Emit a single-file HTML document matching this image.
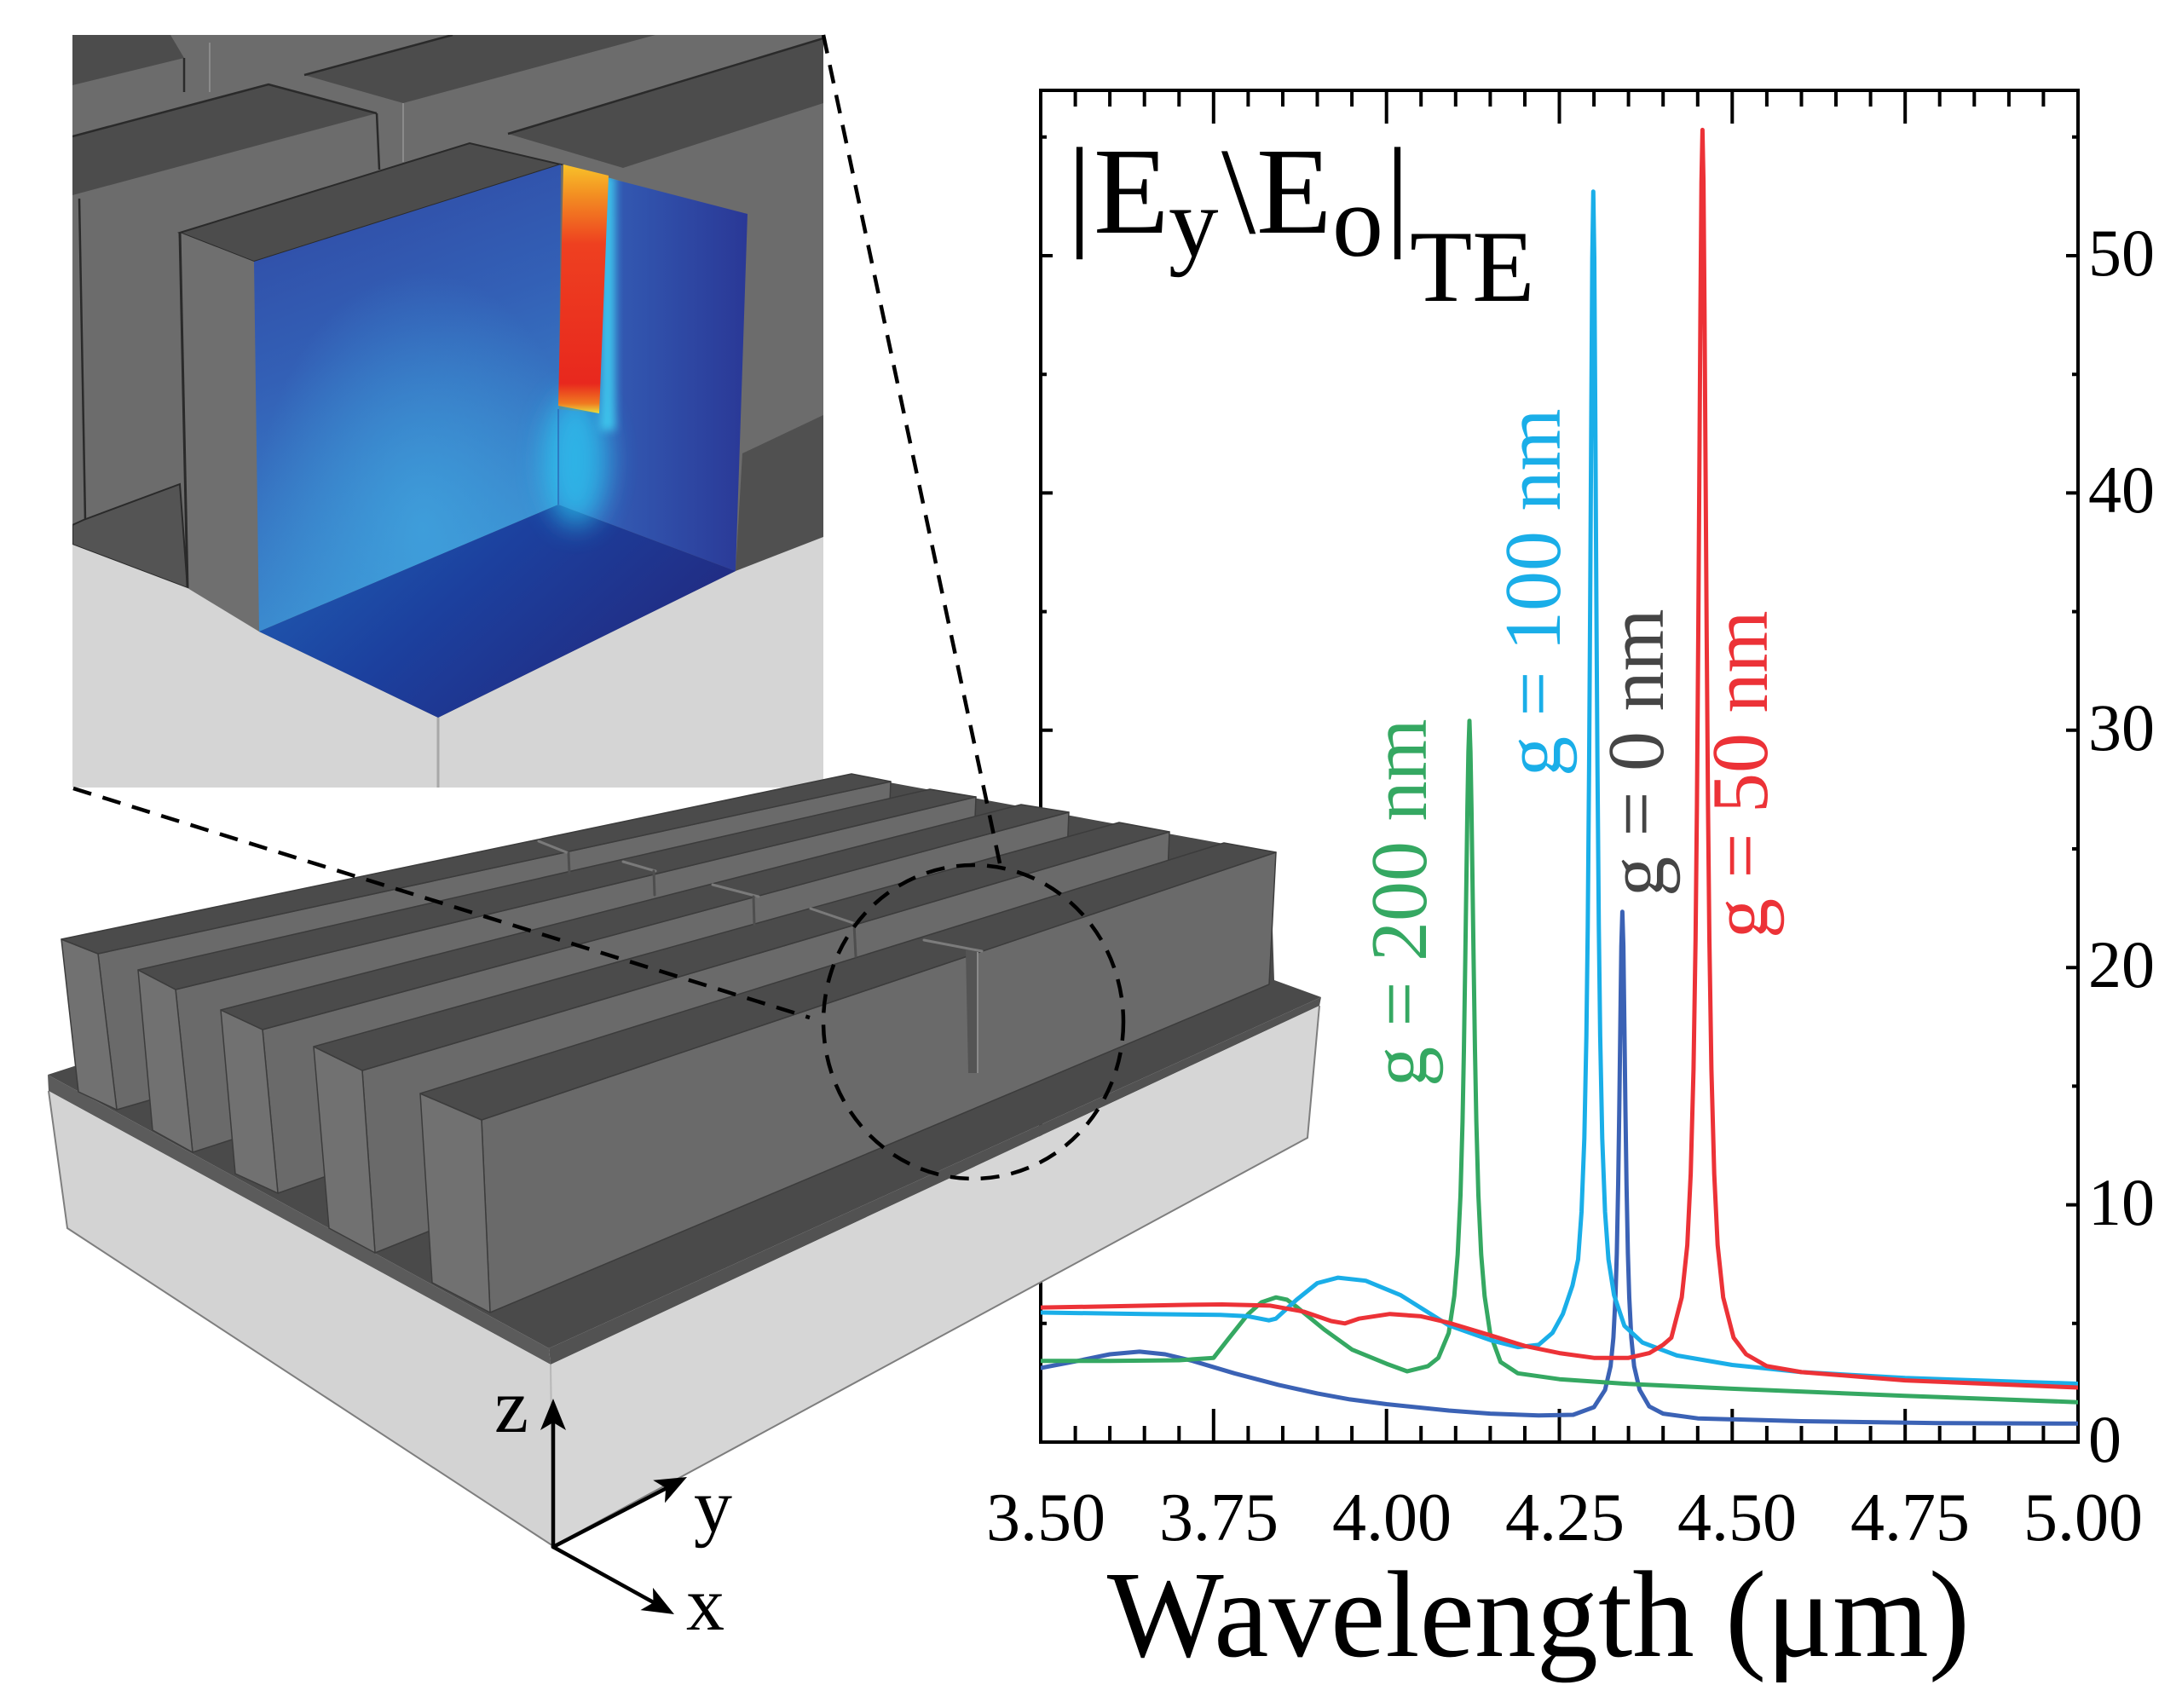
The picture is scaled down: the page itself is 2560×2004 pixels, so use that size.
<!DOCTYPE html>
<html>
<head>
<meta charset="utf-8">
<style>
  html,body{margin:0;padding:0;background:#fff;}
  svg{display:block;}
  text{font-family:"Liberation Serif","DejaVu Serif",serif;}
</style>
</head>
<body>
<svg xmlns="http://www.w3.org/2000/svg" width="2560" height="2004" viewBox="0 0 2560 2004">
<defs>
  <clipPath id="ic"><rect x="85" y="41" width="881" height="883"/></clipPath>
  <clipPath id="pc"><rect x="1221" y="100" width="1217" height="1592"/></clipPath>
  <clipPath id="bc">
    <polygon points="298,307 658,193 655,592 304,741"/>
    <polygon points="655,193 877,251 863,670 655,592"/>
    <polygon points="304,741 655,592 863,670 514,842"/>
  </clipPath>
  <linearGradient id="gLeft" x1="0" y1="0" x2="0.25" y2="1">
    <stop offset="0" stop-color="#2f47a2"/>
    <stop offset="0.45" stop-color="#3360b6"/>
    <stop offset="1" stop-color="#3c90d2"/>
  </linearGradient>
  <radialGradient id="gLeftHi" cx="0.55" cy="0.78" r="0.55">
    <stop offset="0" stop-color="#3fa2dd" stop-opacity="0.85"/>
    <stop offset="1" stop-color="#3fa2dd" stop-opacity="0"/>
  </radialGradient>
  <linearGradient id="gRight" x1="0" y1="0" x2="1" y2="0">
    <stop offset="0" stop-color="#3a72c6"/>
    <stop offset="0.35" stop-color="#3257b0"/>
    <stop offset="1" stop-color="#2a3896"/>
  </linearGradient>
  <linearGradient id="gFloor" x1="0" y1="0" x2="1" y2="0.5">
    <stop offset="0" stop-color="#2062b6"/>
    <stop offset="0.5" stop-color="#1c409e"/>
    <stop offset="1" stop-color="#222a80"/>
  </linearGradient>
  <linearGradient id="gSlit" x1="0" y1="0" x2="0" y2="1">
    <stop offset="0" stop-color="#f8c22a"/>
    <stop offset="0.12" stop-color="#f39022"/>
    <stop offset="0.32" stop-color="#ee4020"/>
    <stop offset="0.88" stop-color="#e8281e"/>
    <stop offset="0.96" stop-color="#f07a20"/>
    <stop offset="1" stop-color="#e8e040"/>
  </linearGradient>
  <filter id="bl" x="-80%" y="-80%" width="260%" height="260%"><feGaussianBlur stdDeviation="16"/></filter>
  <filter id="bl2" x="-50%" y="-50%" width="200%" height="200%"><feGaussianBlur stdDeviation="5"/></filter>
</defs>

<rect x="0" y="0" width="2560" height="2004" fill="#fff"/>

<!-- ================= INSET ================= -->
<g clip-path="url(#ic)">
  <rect x="85" y="41" width="881" height="883" fill="#6c6c6c"/>
  <polygon points="85,41 200,41 216,68 85,100" fill="#4c4c4c"/>
  <polygon points="357,88 473,121 769,41 531,41" fill="#4c4c4c"/>
  <polygon points="85,160 315,99 442,133 85,229" fill="#4c4c4c"/>
  <polygon points="596,157 966,45 966,121 731,197" fill="#4c4c4c"/>
  <polyline points="85,160 315,99 442,133" fill="none" stroke="#2a2a2a" stroke-width="2.5"/>
  <polyline points="357,88 531,41" fill="none" stroke="#2a2a2a" stroke-width="2.5"/>
  <polyline points="596,157 966,45" fill="none" stroke="#2a2a2a" stroke-width="2.5"/>
  <line x1="216" y1="68" x2="216" y2="108" stroke="#2a2a2a" stroke-width="2.5"/>
  <line x1="246" y1="50" x2="246" y2="108" stroke="#8a8a8a" stroke-width="2"/>
  <line x1="442" y1="133" x2="445" y2="199" stroke="#2a2a2a" stroke-width="2.5"/>
  <line x1="473" y1="121" x2="473" y2="190" stroke="#8a8a8a" stroke-width="2"/>
  <line x1="93" y1="233" x2="100" y2="611" stroke="#2a2a2a" stroke-width="2.5"/>
  <polygon points="98,610 211,568 220,690 85,639 85,616" fill="#545454" stroke="#2a2a2a" stroke-width="2"/>
  <polygon points="211,273 551,168 658,193 298,307" fill="#4c4c4c" stroke="#2a2a2a" stroke-width="2"/>
  <polygon points="211,273 298,307 304,741 220,690" fill="#6f6f6f"/>
  <line x1="211" y1="273" x2="220" y2="690" stroke="#2a2a2a" stroke-width="3"/>
  <polygon points="871,532 966,487 966,630 863,670" fill="#505050"/>
  <polygon points="85,639 220,690 304,741 514,842 863,670 966,630 966,924 85,924" fill="#d5d5d5"/>
  <line x1="514" y1="842" x2="514" y2="924" stroke="#a8a8a8" stroke-width="3"/>
  <polygon points="298,307 658,193 655,592 304,741" fill="url(#gLeft)"/>
  <polygon points="298,307 658,193 655,592 304,741" fill="url(#gLeftHi)"/>
  <polygon points="703,206 877,251 863,670 655,592 655,480 703,485" fill="url(#gRight)"/>
  <polygon points="304,741 655,592 863,670 514,842" fill="url(#gFloor)"/>
  <g clip-path="url(#bc)">
    <ellipse cx="676" cy="540" rx="38" ry="78" fill="#2ad0f5" opacity="0.7" filter="url(#bl)"/>
    <rect x="704" y="205" width="18" height="300" fill="#3fd0f2" opacity="0.85" filter="url(#bl2)"/>
  </g>
  <line x1="655" y1="592" x2="655" y2="480" stroke="#2b6ab8" stroke-width="1.5"/>
  <polygon points="661,193 714,206 703,485 655,476" fill="url(#gSlit)"/>
</g>

<!-- ================= PLOT ================= -->
<rect x="1221" y="106" width="1217" height="1586" fill="none" stroke="#000" stroke-width="4"/>
<g stroke="#000" stroke-width="4" fill="none">
  <path d="M1261.6 1692V1673 M1302.1 1692V1673 M1342.7 1692V1673 M1383.3 1692V1673 M1423.8 1692V1653 M1464.4 1692V1673 M1505 1692V1673 M1545.5 1692V1673 M1586.1 1692V1673 M1626.7 1692V1653 M1667.2 1692V1673 M1707.8 1692V1673 M1748.4 1692V1673 M1789 1692V1673 M1829.5 1692V1653 M1870.1 1692V1673 M1910.6 1692V1673 M1951.2 1692V1673 M1991.8 1692V1673 M2032.3 1692V1653 M2072.9 1692V1673 M2113.5 1692V1673 M2154 1692V1673 M2194.6 1692V1673 M2235.2 1692V1653 M2275.7 1692V1673 M2316.3 1692V1673 M2356.9 1692V1673 M2397.4 1692V1673"/>
  <path d="M1261.6 106V125 M1302.1 106V125 M1342.7 106V125 M1383.3 106V125 M1423.8 106V145 M1464.4 106V125 M1505 106V125 M1545.5 106V125 M1586.1 106V125 M1626.7 106V145 M1667.2 106V125 M1707.8 106V125 M1748.4 106V125 M1789 106V125 M1829.5 106V145 M1870.1 106V125 M1910.6 106V125 M1951.2 106V125 M1991.8 106V125 M2032.3 106V145 M2072.9 106V125 M2113.5 106V125 M2154 106V125 M2194.6 106V125 M2235.2 106V145 M2275.7 106V125 M2316.3 106V125 M2356.9 106V125 M2397.4 106V125"/>
  <path d="M1221 1552.8H1228 M1221 1413.6H1235 M1221 1274.4H1228 M1221 1135.2H1235 M1221 996H1228 M1221 856.8H1235 M1221 717.6H1228 M1221 578.4H1235 M1221 439.2H1228 M1221 300H1235 M1221 160.8H1228"/>
  <path d="M2438 1552.8H2431 M2438 1413.6H2424 M2438 1274.4H2431 M2438 1135.2H2424 M2438 996H2431 M2438 856.8H2424 M2438 717.6H2431 M2438 578.4H2424 M2438 439.2H2431 M2438 300H2424 M2438 160.8H2431"/>
</g>

<g font-size="78" fill="#000">
  <text x="2450" y="1715">0</text>
  <text x="2450" y="1437">10</text>
  <text x="2450" y="1158">20</text>
  <text x="2450" y="880">30</text>
  <text x="2450" y="601">40</text>
  <text x="2450" y="323">50</text>
</g>
<g font-size="80" fill="#000" text-anchor="middle">
  <text x="1227" y="1807">3.50</text>
  <text x="1430" y="1807">3.75</text>
  <text x="1633" y="1807">4.00</text>
  <text x="1836" y="1807">4.25</text>
  <text x="2038" y="1807">4.50</text>
  <text x="2241" y="1807">4.75</text>
  <text x="2444" y="1807">5.00</text>
</g>
<text x="1805" y="1943" font-size="145" text-anchor="middle" fill="#000">Wavelength (μm)</text>

<g fill="#000">
  <text x="1252" y="273" font-size="145">|</text>
  <text x="1283" y="273" font-size="145">E</text>
  <text x="1371" y="300" font-size="117">y</text>
  <text x="1433" y="273" font-size="145">\</text>
  <text x="1474" y="273" font-size="145">E</text>
  <text x="1563" y="300" font-size="120">o</text>
  <text x="1625" y="273" font-size="145">|</text>
  <text x="1654" y="353" font-size="120">TE</text>
</g>

<!-- curves -->
<g clip-path="url(#pc)" fill="none" stroke-width="5" stroke-linejoin="round" stroke-linecap="round">
  <polyline stroke="#3b62b5" points="1221,1605.1 1261.6,1597.3 1302.1,1589 1337,1585.9 1367,1589 1399.5,1596.8 1448.2,1611.3 1500.1,1624.9 1545.5,1634.9 1583.7,1641.9 1626.7,1647.5 1699.7,1655 1748.4,1658.6 1805.2,1660.8 1845.7,1660 1870.1,1651 1883.1,1630.8 1889.6,1602.9 1892.9,1569.5 1895.3,1522.2 1896.9,1470.7 1898.5,1389.9 1899.75,1305 1901,1204.8 1902.2,1110.1 1903.4,1069.8 1904.6,1110.1 1905.8,1204.8 1907.05,1305 1908.3,1389.9 1909.9,1470.7 1911.5,1522.2 1913.9,1569.5 1917.2,1602.9 1923.7,1630.8 1935,1650.2 1951.2,1658.6 1991.8,1664.2 2113.5,1667.5 2275.7,1669.7 2438,1670.3"/>
  <polyline stroke="#35a862" points="1221,1596.8 1302.1,1596.8 1383.3,1596 1423.8,1593.2 1440.1,1572.3 1464.4,1541.7 1480,1528 1496.9,1522.2 1510,1525 1521.2,1533.3 1553.7,1560 1586.1,1583.4 1626.7,1600.1 1651,1609 1675.3,1602.9 1687.5,1593.2 1699.7,1563.9 1706.2,1520.8 1710.2,1472.1 1713.5,1402.5 1715.9,1316.2 1717.5,1232.6 1719.1,1126.8 1720.35,1037.8 1721.6,948.7 1722.8,881.9 1724,845.7 1725.2,881.9 1726.4,948.7 1727.65,1037.8 1728.9,1126.8 1730.5,1232.6 1732.1,1316.2 1734.5,1402.5 1737.8,1472.1 1741.8,1520.8 1748.4,1565 1760.5,1598 1780.8,1611.3 1829.5,1618.2 1910.6,1623.8 2032.3,1629.4 2235.2,1637.7 2438,1645.2"/>
  <polyline stroke="#1aaee8" points="1221,1540 1342.7,1541.7 1431.9,1542.8 1464.4,1544.4 1488.7,1549.2 1496.9,1547.2 1521.2,1525 1545.5,1505.5 1569.9,1499.1 1602.3,1502.7 1642.9,1519.4 1699.7,1555 1748.4,1572.3 1780.8,1580.6 1805.2,1577.9 1821.4,1563.9 1833.6,1541.7 1844.9,1508.3 1851.5,1477.6 1855.5,1422 1858.8,1335.6 1861.2,1215.9 1862.8,1087.9 1864.4,898.6 1865.65,709.2 1866.9,494.9 1868.1,302.8 1869.3,224.8 1870.5,302.8 1871.7,494.9 1872.95,709.2 1874.2,898.6 1875.8,1087.9 1877.4,1215.9 1879.8,1335.6 1883.1,1422 1887.1,1477.6 1893.6,1519.4 1905.8,1555.6 1926.8,1575.1 1967.4,1590.4 2032.3,1601.5 2113.5,1609.9 2235.2,1616.8 2438,1623.5"/>
  <polyline stroke="#ec3237" points="1221,1534.1 1302.1,1532.8 1383.3,1531.1 1433.6,1530.5 1490.4,1531.9 1529.3,1538.9 1561.8,1550 1578,1552.8 1594.2,1547.2 1630.7,1541.7 1667.2,1544.4 1699.7,1552 1748.4,1566.7 1788.9,1579.2 1829.5,1587.6 1870.1,1593.2 1910.6,1593.2 1935,1587.6 1951.2,1577.9 1960.9,1569.5 1973.1,1522.2 1979.6,1460.9 1983.6,1377.4 1986.9,1254.9 1989.3,1101.8 1990.9,945.9 1992.5,739.9 1993.75,553.3 1995,364 1996.2,213.7 1997.4,152.4 1998.6,213.7 1999.8,364 2001.05,553.3 2002.3,739.9 2003.9,945.9 2005.5,1101.8 2007.9,1254.9 2011.2,1377.4 2015.2,1460.9 2021.7,1522.2 2033.9,1569.5 2048.6,1589 2072.9,1602.9 2113.5,1609.9 2235.2,1619.6 2438,1628"/>
</g>

<g font-size="94">
  <text transform="translate(1673,1275) rotate(-90)" fill="#35a862">g = 200 nm</text>
  <text transform="translate(1830,911) rotate(-90)" fill="#1aaee8">g = 100 nm</text>
  <text transform="translate(1951,1052) rotate(-90)" fill="#454545">g = 0 nm</text>
  <text transform="translate(2073,1101) rotate(-90)" fill="#ec3237">g = 50 nm</text>
</g>

<!-- ================= MAIN 3D STRUCTURE ================= -->
<g>
  <polygon points="56,1261 644,1582 1550,1170 1495,1150 1490,1000 1000,910 115,1119 90,1250" fill="#4a4a4a"/>
  <polygon points="56,1261 644,1582 646,1601 57,1280" fill="#5b5b5b"/>
  <polygon points="644,1582 1550,1170 1548,1180 646,1601" fill="#525252"/>
  <polygon points="57,1280 646,1601 649,1814 79,1441" fill="#d3d3d3"/>
  <polygon points="646,1601 1548,1180 1534,1335 649,1814" fill="#d6d6d6"/>
  <polyline points="57,1280 79,1441 649,1814 1534,1335 1548,1180" fill="none" stroke="#7e7e7e" stroke-width="2"/>
  <line x1="646" y1="1601" x2="649" y2="1814" stroke="#b8b8b8" stroke-width="2"/>

  <g stroke="#3c3c3c" stroke-width="1.5" stroke-linejoin="round">
    <polygon points="115,1119 1045,917 1040,1040 137,1302" fill="#6a6a6a"/>
    <polygon points="72,1102 115,1119 137,1302 92,1281" fill="#717171"/>
    <polygon points="72,1102 115,1119 1045,917 999,908" fill="#4b4b4b"/>
    <polygon points="206,1161 1145,935 1140,1057 226,1352" fill="#6a6a6a"/>
    <polygon points="162,1138 206,1161 226,1352 179,1326" fill="#717171"/>
    <polygon points="162,1138 206,1161 1145,935 1091,926" fill="#4b4b4b"/>
    <polygon points="308,1208 1254,953 1249,1075 326,1400" fill="#6a6a6a"/>
    <polygon points="259,1185 308,1208 326,1400 276,1377" fill="#717171"/>
    <polygon points="259,1185 308,1208 1254,953 1198,944" fill="#4b4b4b"/>
    <polygon points="425,1256 1372,976 1367,1098 440,1470" fill="#6a6a6a"/>
    <polygon points="368,1228 425,1256 440,1470 386,1441" fill="#717171"/>
    <polygon points="368,1228 425,1256 1372,976 1313,965" fill="#4b4b4b"/>
    <polygon points="565,1314 1497,1000 1489,1155 575,1540" fill="#6a6a6a"/>
    <polygon points="493,1283 565,1314 575,1540 507,1505" fill="#717171"/>
    <polygon points="493,1283 565,1314 1497,1000 1436,989" fill="#4b4b4b"/>
  </g>
  <g stroke-linecap="round">
    <line x1="632" y1="987" x2="667" y2="1001" stroke="#7a7a7a" stroke-width="3"/>
    <line x1="667" y1="1001" x2="668" y2="1025" stroke="#4e4e4e" stroke-width="3"/>
    <line x1="731" y1="1011" x2="769" y2="1022" stroke="#7a7a7a" stroke-width="3"/>
    <line x1="767" y1="1022" x2="768" y2="1050" stroke="#4e4e4e" stroke-width="3"/>
    <line x1="836" y1="1038" x2="890" y2="1052" stroke="#7a7a7a" stroke-width="3"/>
    <line x1="884" y1="1052" x2="885" y2="1085" stroke="#4e4e4e" stroke-width="3"/>
    <line x1="951" y1="1066" x2="1004" y2="1084" stroke="#7a7a7a" stroke-width="3"/>
    <line x1="1002" y1="1084" x2="1004" y2="1122" stroke="#4e4e4e" stroke-width="3"/>
    <line x1="1084" y1="1103" x2="1152" y2="1116" stroke="#7c7c7c" stroke-width="3"/>
  </g>
  <polygon points="1133,1114 1148,1117 1147,1259 1136,1259" fill="#545454"/>
  <line x1="1147" y1="1117" x2="1147" y2="1259" stroke="#8a8a8a" stroke-width="2"/>
</g>

<g fill="none" stroke="#000" stroke-width="4.5" stroke-dasharray="22 14">
  <line x1="86" y1="925" x2="950" y2="1194"/>
  <line x1="966" y1="41" x2="1173" y2="1013"/>
  <ellipse cx="1142" cy="1199" rx="176" ry="184"/>
</g>

<g stroke="#000" stroke-width="4.5" fill="none" stroke-linecap="round">
  <line x1="649" y1="1815" x2="649" y2="1665"/>
  <line x1="649" y1="1815" x2="782" y2="1746"/>
  <line x1="649" y1="1815" x2="772" y2="1883"/>
</g>
<g fill="#000">
  <polygon points="649,1641 664,1678 649,1669 634,1678"/>
  <polygon points="806,1733 780,1763.4 781.1,1745.9 766.2,1736.8"/>
  <polygon points="791,1894 751.4,1889.1 766.5,1880.4 766,1862.9"/>
</g>
<g font-size="90" fill="#000">
  <text x="580" y="1680">z</text>
  <text x="814" y="1797">y</text>
  <text x="805" y="1912">x</text>
</g>
</svg>
</body>
</html>
